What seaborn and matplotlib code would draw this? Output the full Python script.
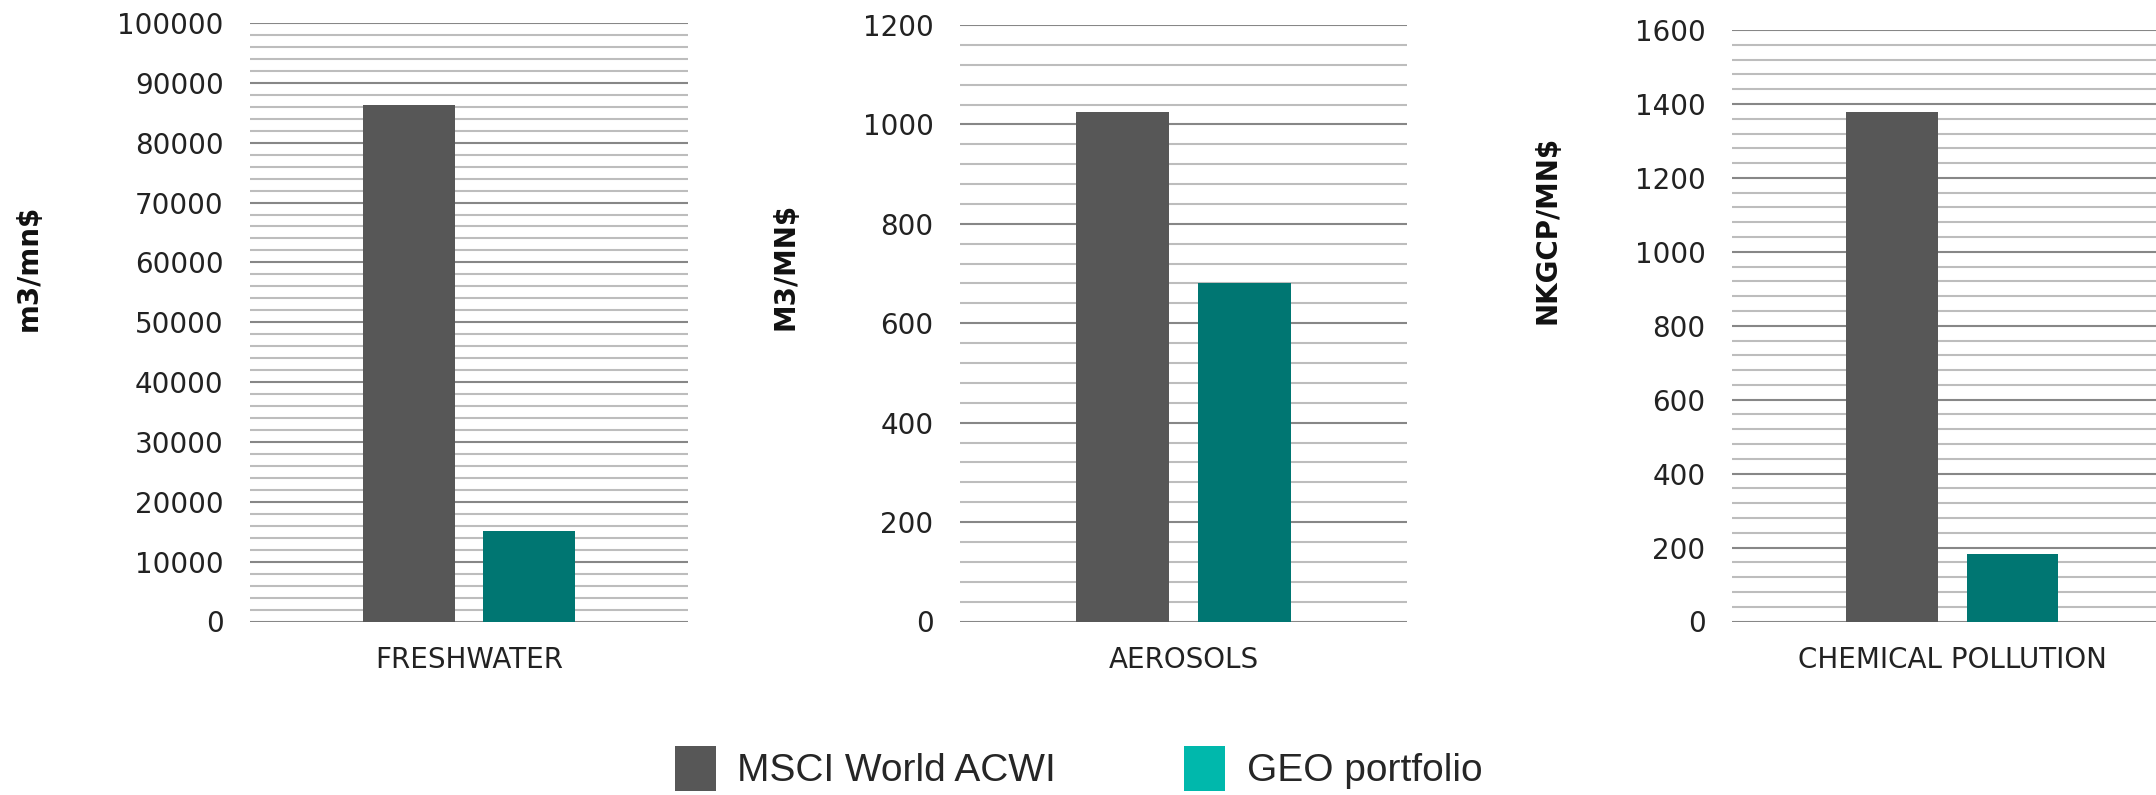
import matplotlib
matplotlib.use("Agg")
import matplotlib.pyplot as plt
from matplotlib.patches import Patch
from matplotlib.ticker import MultipleLocator
import seaborn as sns
import pandas as pd

# ---- data ----
series = ["MSCI World ACWI", "GEO portfolio"]
categories = ["FRESHWATER", "AEROSOLS", "CHEMICAL POLLUTION"]
units = ["m3/mn$", "M3/MN$", "NKGCP/MN$"]
msci_values = [86300, 1025, 1378]
geo_values = [15200, 681, 182]
y_max = [100000, 1200, 1600]
y_major = [10000, 200, 200]
y_minor = [2000, 40, 40]

bar_colors = ["#575757", "#007672"]
legend_colors = ["#575757", "#00B8AC"]

sns.set_theme(style="white")
plt.rcParams["font.family"] = ["DejaVu Sans"]

W, H = 2156, 795
fig = plt.figure(figsize=(W / 100, H / 100), dpi=100)

# axes boxes in pixels: left, right, top, bottom
boxes = [(250, 688, 23, 621.5), (960, 1407, 25, 621.5), (1732, 2156, 30, 621.5)]
xlims = [(-0.5, 0.5), (-0.5, 0.5), (-0.5, 0.4625)]
label_pos = [(43, 268), (800, 266), (1561, 230)]

for i in range(3):
    l, r, t, b = boxes[i]
    ax = fig.add_axes([l / W, 1 - b / H, (r - l) / W, (b - t) / H])
    df = pd.DataFrame({
        "category": [categories[i]] * 2,
        "series": series,
        "value": [msci_values[i], geo_values[i]],
    })
    sns.barplot(data=df, x="category", y="value", hue="series",
                hue_order=series, palette=bar_colors, width=0.548, gap=0.24,
                legend=False, ax=ax, saturation=1, edgecolor="none", zorder=3)
    ax.set_ylim(0, y_max[i])
    ax.set_xlim(*xlims[i])
    ax.yaxis.set_major_locator(MultipleLocator(y_major[i]))
    ax.yaxis.set_minor_locator(MultipleLocator(y_minor[i]))
    ax.grid(which="major", axis="y", color="#878787", linewidth=1.5, zorder=0)
    ax.grid(which="minor", axis="y", color="#bdbdbd", linewidth=1.5, zorder=0)
    ax.set_axisbelow(True)
    for s in ax.spines.values():
        s.set_visible(False)
    ax.tick_params(axis="y", which="both", length=0, pad=19, labelsize=20,
                   labelcolor="#222222")
    ax.tick_params(axis="x", length=0, pad=18, labelsize=20, labelcolor="#222222")
    ax.set_xlabel("")
    ax.set_ylabel(units[i], fontsize=20, fontweight="bold", color="#111111")
    lx, ly = label_pos[i]
    ax.yaxis.set_label_coords(lx / W, 1 - ly / H, transform=fig.transFigure)

handles = [Patch(facecolor=c, edgecolor="none") for c in legend_colors]
fig.legend(handles, series, loc="upper left",
           bbox_to_anchor=(675 / W, 1 - 746 / H), ncol=2, frameon=False,
           prop={"family": ["Liberation Sans", "DejaVu Sans"], "size": 28},
           handlelength=1.05, handleheight=1.4, handletextpad=0.55,
           columnspacing=3.3, borderpad=0, borderaxespad=0)

fig.savefig("out.png", dpi=100)
